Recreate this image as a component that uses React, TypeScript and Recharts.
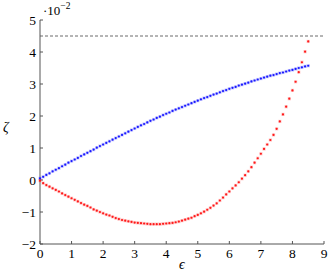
import React from 'react';
import {
  LineChart,
  Line,
  XAxis,
  YAxis,
  ReferenceLine
} from 'recharts';

// epsilon values, 0.0 .. 8.5 step 0.1
const EPS = [
  0.0, 0.1, 0.2, 0.3, 0.4, 0.5, 0.6, 0.7, 0.8, 0.9,
  1.0, 1.1, 1.2, 1.3, 1.4, 1.5, 1.6, 1.7, 1.8, 1.9,
  2.0, 2.1, 2.2, 2.3, 2.4, 2.5, 2.6, 2.7, 2.8, 2.9,
  3.0, 3.1, 3.2, 3.3, 3.4, 3.5, 3.6, 3.7, 3.8, 3.9,
  4.0, 4.1, 4.2, 4.3, 4.4, 4.5, 4.6, 4.7, 4.8, 4.9,
  5.0, 5.1, 5.2, 5.3, 5.4, 5.5, 5.6, 5.7, 5.8, 5.9,
  6.0, 6.1, 6.2, 6.3, 6.4, 6.5, 6.6, 6.7, 6.8, 6.9,
  7.0, 7.1, 7.2, 7.3, 7.4, 7.5, 7.6, 7.7, 7.8, 7.9,
  8.0, 8.1, 8.2, 8.3, 8.4, 8.5
];

// zeta (x 10^-2), blue series
const ZETA_BLUE = [
  0.05, 0.10, 0.16, 0.21, 0.27, 0.32, 0.37, 0.43, 0.48, 0.54,
  0.59, 0.64, 0.69, 0.75, 0.80, 0.85, 0.90, 0.95, 1.01, 1.06,
  1.11, 1.16, 1.21, 1.26, 1.31, 1.36, 1.41, 1.46, 1.51, 1.56,
  1.61, 1.66, 1.71, 1.75, 1.80, 1.85, 1.89, 1.94, 1.98, 2.03,
  2.07, 2.11, 2.16, 2.20, 2.24, 2.28, 2.32, 2.36, 2.40, 2.44,
  2.48, 2.52, 2.56, 2.59, 2.63, 2.67, 2.70, 2.74, 2.78, 2.81,
  2.85, 2.88, 2.91, 2.95, 2.98, 3.01, 3.04, 3.08, 3.11, 3.14,
  3.17, 3.20, 3.23, 3.26, 3.28, 3.31, 3.34, 3.36, 3.39, 3.42,
  3.44, 3.47, 3.50, 3.52, 3.55, 3.57
];

// zeta (x 10^-2), red series
const ZETA_RED = [
  -0.02, -0.10, -0.16, -0.21, -0.26, -0.31, -0.36, -0.42, -0.47, -0.52,
  -0.57, -0.62, -0.67, -0.72, -0.77, -0.81, -0.86, -0.92, -0.96, -1.00,
  -1.04, -1.08, -1.11, -1.15, -1.19, -1.22, -1.25, -1.27, -1.29, -1.31,
  -1.33, -1.34, -1.35, -1.36, -1.37, -1.38, -1.38, -1.38, -1.38, -1.37,
  -1.36, -1.35, -1.34, -1.32, -1.30, -1.27, -1.24, -1.21, -1.18, -1.13,
  -1.09, -1.04, -0.99, -0.93, -0.87, -0.80, -0.73, -0.64, -0.55, -0.45,
  -0.36, -0.26, -0.17, -0.07, 0.04, 0.15, 0.27, 0.40, 0.54, 0.68,
  0.82, 0.97, 1.11, 1.25, 1.41, 1.60, 1.83, 2.05, 2.29, 2.54,
  2.80, 3.07, 3.37, 3.68, 4.01, 4.33
];

const X_TICKS = [0, 1, 2, 3, 4, 5, 6, 7, 8, 9];
const Y_TICKS = [-2, -1, 0, 1, 2, 3, 4, 5];
const LIMIT = 4.5;

const FONT = '"Liberation Serif", "DejaVu Serif", serif';
const FRAME = '#555';

const data = EPS.map((x, i) => ({ x, blue: ZETA_BLUE[i], red: ZETA_RED[i] }));

const fmt = (v: number) => (v < 0 ? `\u2212${Math.abs(v)}` : `${v}`);

const mark = (color: string) => (props: any) => {
  const { cx, cy, index } = props;
  if (cx == null || cy == null) return <g key={index} />;
  return (
    <g key={index}>
      <rect x={cx - 1.6} y={cy - 1.6} width={3.2} height={3.2} fill={color} fillOpacity={0.25} />
      <circle cx={cx} cy={cy} r={1.1} fill={color} />
    </g>
  );
};

const tickStyle = { fill: '#000', fontSize: 13.5, fontFamily: FONT };

export default function App() {
  return (
    <div style={{ position: 'absolute', left: 0, top: 0, width: 332, height: 274, background: '#fff' }}>
      <LineChart width={332} height={274} data={data} margin={{ top: 20, right: 8, bottom: 0, left: 0 }}>
        <XAxis
          xAxisId="b"
          type="number"
          dataKey="x"
          domain={[0, 9]}
          ticks={X_TICKS}
          height={30}
          tickSize={-3}
          tickMargin={7}
          tick={tickStyle}
          tickLine={{ stroke: FRAME }}
          axisLine={{ stroke: FRAME }}
          tickFormatter={fmt}
        />
        <XAxis
          xAxisId="t"
          orientation="top"
          type="number"
          dataKey="x"
          domain={[0, 9]}
          ticks={X_TICKS}
          height={0}
          tickSize={-3}
          tick={() => <g />}
          tickLine={{ stroke: FRAME }}
          axisLine={{ stroke: FRAME }}
        />
        <YAxis
          yAxisId="l"
          type="number"
          domain={[-2, 5]}
          ticks={Y_TICKS}
          width={40}
          tickSize={-3}
          tickMargin={7}
          tick={tickStyle}
          tickLine={{ stroke: FRAME }}
          axisLine={{ stroke: FRAME }}
          tickFormatter={fmt}
        />
        <YAxis
          yAxisId="r"
          orientation="right"
          type="number"
          domain={[-2, 5]}
          ticks={Y_TICKS}
          width={0}
          tickSize={-3}
          tick={() => <g />}
          tickLine={{ stroke: FRAME }}
          axisLine={{ stroke: FRAME }}
        />
        <ReferenceLine xAxisId="b" yAxisId="l" y={LIMIT} stroke="#444" strokeDasharray="3 2" strokeWidth={0.8} />
        <Line
          xAxisId="b"
          yAxisId="l"
          dataKey="blue"
          stroke="none"
          dot={mark('#1a1aff')}
          activeDot={false}
          isAnimationActive={false}
        />
        <Line
          xAxisId="b"
          yAxisId="l"
          dataKey="red"
          stroke="none"
          dot={mark('#ff1a1a')}
          activeDot={false}
          isAnimationActive={false}
        />
      </LineChart>
      <div style={{ position: 'absolute', left: 43, top: 0, fontFamily: FONT, fontSize: 13, lineHeight: '14px' }}>
        ·10<sup style={{ fontSize: 9.5, position: 'relative', top: -1 }}>−2</sup>
      </div>
      <div style={{ position: 'absolute', left: 3, top: 120, fontFamily: FONT, fontSize: 14, fontStyle: 'italic' }}>ζ</div>
      <div style={{ position: 'absolute', left: 179, top: 257, fontFamily: FONT, fontSize: 14, fontStyle: 'italic' }}>ϵ</div>
    </div>
  );
}
